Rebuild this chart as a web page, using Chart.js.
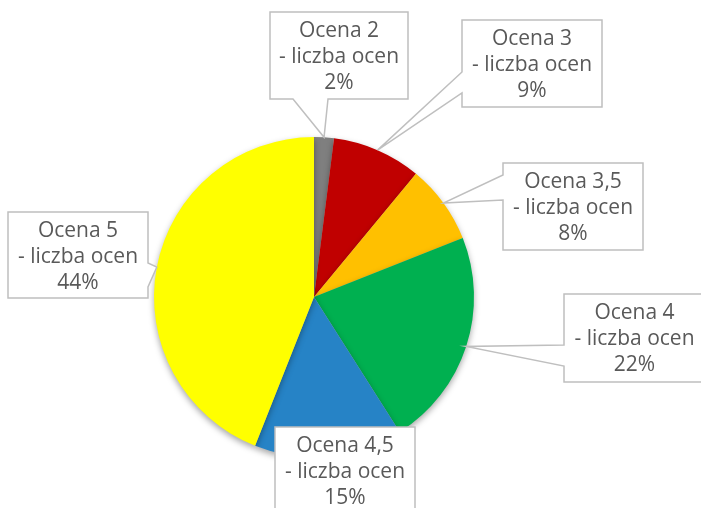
<!DOCTYPE html>
<html>
<head>
<meta charset="utf-8">
<script src="https://cdn.jsdelivr.net/npm/chart.js@4/dist/chart.umd.min.js"></script>
<style>
html,body{margin:0;padding:0;background:#fff;}
#wrap{width:701px;height:508px;position:relative;}
</style>
</head>
<body>
<div id="wrap"><canvas id="c" width="701" height="508"></canvas></div>
<script>
const categories = ["Ocena 2", "Ocena 3", "Ocena 3,5", "Ocena 4", "Ocena 4,5", "Ocena 5"];
const seriesName = "liczba ocen";
const shares = [2, 9, 8, 22, 15, 44];
const sliceColors = ["#7f7f7f", "#c00000", "#ffc000", "#00b050", "#2683c6", "#ffff00"];

// callout boxes: x, y, w, h, side of pointer, base range on that side
const callouts = [
  {x: 270, y: 12,  w: 138, h: 87, side: "bottom", b0: 293, b1: 328},
  {x: 462, y: 20,  w: 140, h: 87, side: "left",   b0: 72,  b1: 93},
  {x: 503, y: 163, w: 140, h: 87, side: "left",   b0: 175, b1: 200},
  {x: 564, y: 294, w: 141, h: 88, side: "left",   b0: 345, b1: 366},
  {x: 275, y: 427, w: 140, h: 90, side: null},
  {x: 8,   y: 212, w: 140, h: 86, side: "right",  b0: 263, b1: 287}
];

const shadowPlugin = {
  id: "shadow",
  beforeDatasetsDraw(chart) {
    const ctx = chart.ctx;
    ctx.save();
    ctx.shadowColor = "rgba(0,0,0,0.35)";
    ctx.shadowBlur = 6;
    ctx.shadowOffsetX = 0;
    ctx.shadowOffsetY = 3;
  },
  afterDatasetsDraw(chart) {
    chart.ctx.restore();
  }
};

const calloutPlugin = {
  id: "callouts",
  afterDraw(chart) {
    const ctx = chart.ctx;
    const meta = chart.getDatasetMeta(0);
    meta.data.forEach((arc, i) => {
      const c = callouts[i];
      const mid = (arc.startAngle + arc.endAngle) / 2;
      const tx = arc.x + Math.cos(mid) * arc.outerRadius;
      const ty = arc.y + Math.sin(mid) * arc.outerRadius;
      const x0 = c.x, y0 = c.y, x1 = c.x + c.w, y1 = c.y + c.h;
      ctx.save();
      ctx.beginPath();
      ctx.moveTo(x0, y0);
      ctx.lineTo(x1, y0);
      if (c.side === "right") {
        ctx.lineTo(x1, c.b0); ctx.lineTo(tx, ty); ctx.lineTo(x1, c.b1);
      }
      ctx.lineTo(x1, y1);
      if (c.side === "bottom") {
        ctx.lineTo(c.b1, y1); ctx.lineTo(tx, ty); ctx.lineTo(c.b0, y1);
      }
      ctx.lineTo(x0, y1);
      if (c.side === "left") {
        ctx.lineTo(x0, c.b1); ctx.lineTo(tx, ty); ctx.lineTo(x0, c.b0);
      }
      ctx.closePath();
      ctx.fillStyle = "#ffffff";
      ctx.fill();
      ctx.lineWidth = 1.5;
      ctx.strokeStyle = "#bfbfbf";
      ctx.stroke();
      ctx.fillStyle = "#595959";
      ctx.font = "21px 'Open Sans', sans-serif";
      ctx.textAlign = "center";
      ctx.textBaseline = "middle";
      const cx = c.x + c.w / 2;
      const cy = c.y + 45;
      const lines = [categories[i], "- " + seriesName, shares[i] + "%"];
      lines.forEach((t, k) => ctx.fillText(t, cx, cy + (k - 1) * 26));
      ctx.restore();
    });
  }
};

new Chart(document.getElementById("c"), {
  type: "pie",
  data: {
    labels: categories,
    datasets: [{
      label: seriesName,
      data: shares,
      backgroundColor: sliceColors,
      borderWidth: 0
    }]
  },
  options: {
    responsive: false,
    animation: false,
    layout: {padding: {top: 137, bottom: 51, left: 154, right: 227}},
    plugins: {legend: {display: false}, tooltip: {enabled: false}}
  },
  plugins: [shadowPlugin, calloutPlugin]
});
</script>
</body>
</html>
